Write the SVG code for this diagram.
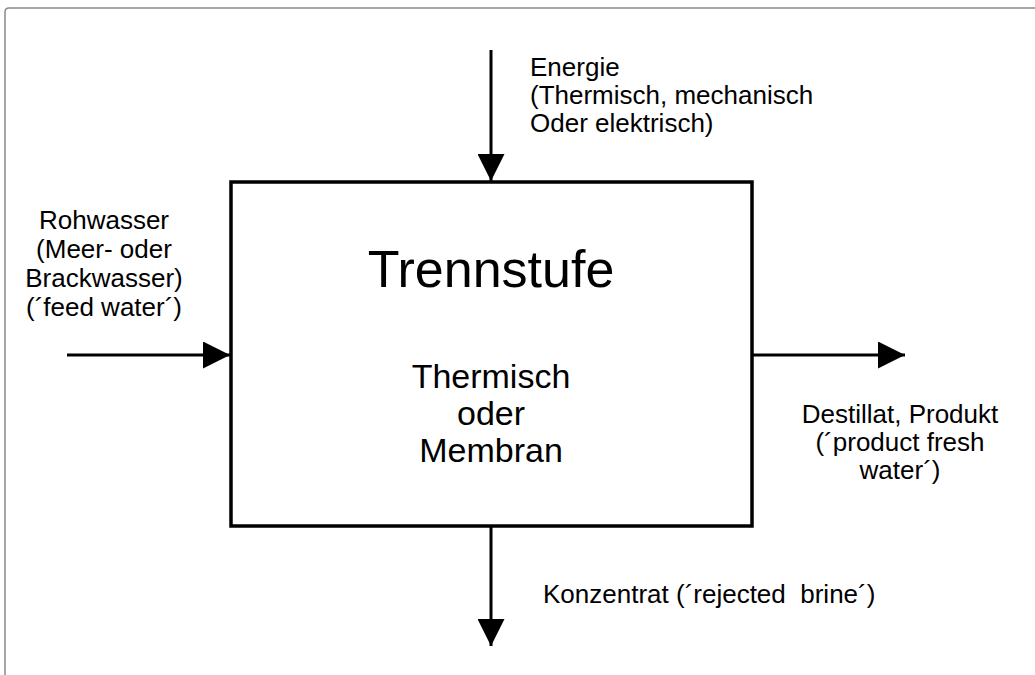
<svg xmlns="http://www.w3.org/2000/svg" width="1035" height="675" viewBox="0 0 1035 675">
<style>
text{font-family:"Liberation Sans",Arial,sans-serif;fill:#000}
.lbl{font-size:26px}
.mid{text-anchor:middle}
.ln{stroke:#000;stroke-width:3;fill:none}
</style>
<defs>
<marker id="ah" viewBox="0 0 10 10" refX="10" refY="5" markerWidth="9" markerHeight="9" markerUnits="strokeWidth" orient="auto">
<path d="M0,0 L10,5 L0,10 Z" fill="#000"/>
</marker>
</defs>
<rect x="0" y="0" width="1035" height="675" fill="#fff"/>
<path d="M5,675 V12 Q5,8 9,8 H1035" fill="none" stroke="#8a8a8a" stroke-width="1.5"/>
<g id="connectors">
<line class="ln" x1="491" y1="50" x2="491" y2="181" marker-end="url(#ah)"/>
<line class="ln" x1="67" y1="355" x2="230" y2="355" marker-end="url(#ah)"/>
<line class="ln" x1="752" y1="355" x2="905" y2="355" marker-end="url(#ah)"/>
<line class="ln" x1="491" y1="527" x2="491" y2="646" marker-end="url(#ah)"/>
</g>
<g id="trennstufe">
<rect x="231" y="182" width="521" height="344" fill="#fff" stroke="#000" stroke-width="3.5"/>
<text x="491" y="287" class="mid" font-size="52">Trennstufe</text>
<text x="491" y="388" class="mid" font-size="34">Thermisch</text>
<text x="491" y="425" class="mid" font-size="34">oder</text>
<text x="491" y="462" class="mid" font-size="34">Membran</text>
</g>
<g id="energie">
<text class="lbl" x="530" y="76">Energie</text>
<text class="lbl" x="530" y="104">(Thermisch, mechanisch</text>
<text class="lbl" x="530" y="132">Oder elektrisch)</text>
</g>
<g id="rohwasser">
<text class="lbl mid" x="104" y="229">Rohwasser</text>
<text class="lbl mid" x="104" y="258">(Meer- oder</text>
<text class="lbl mid" x="104" y="287">Brackwasser)</text>
<text class="lbl mid" x="104" y="316">(´feed water´)</text>
</g>
<g id="destillat">
<text class="lbl mid" x="900" y="423">Destillat, Produkt</text>
<text class="lbl mid" x="900" y="451">(´product fresh</text>
<text class="lbl mid" x="900" y="479">water´)</text>
</g>
<g id="konzentrat">
<text class="lbl" x="543" y="603" xml:space="preserve">Konzentrat (´rejected  brine´)</text>
</g>
</svg>
